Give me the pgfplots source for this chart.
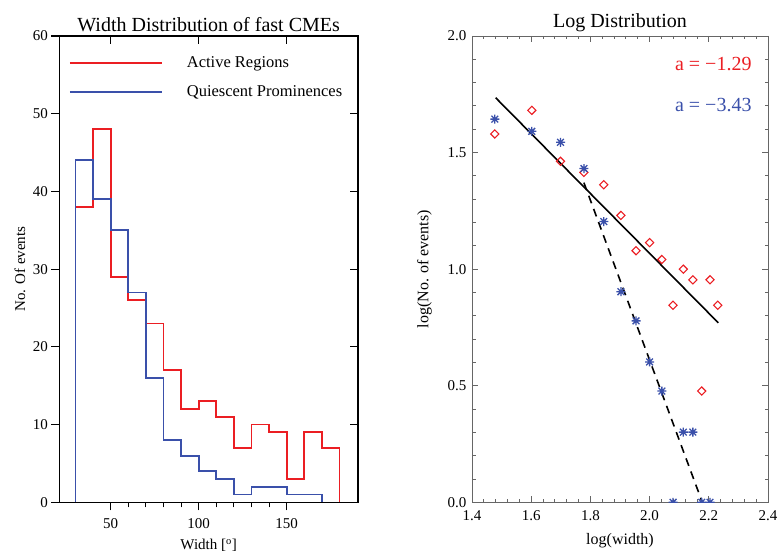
\documentclass[border=0pt]{standalone}
\usepackage{fontspec}
\setmainfont{Liberation Serif}
\usepackage{pgfplots}
\pgfplotsset{compat=1.18, /pgf/number format/assume math mode=true}
\definecolor{myred}{RGB}{235,30,35}
\definecolor{myblue}{RGB}{58,80,170}
\pgfdeclareplotmark{idlast}{%
  \pgfpathmoveto{\pgfqpoint{-\pgfplotmarksize}{0pt}}\pgfpathlineto{\pgfqpoint{\pgfplotmarksize}{0pt}}%
  \pgfpathmoveto{\pgfqpoint{0pt}{-\pgfplotmarksize}}\pgfpathlineto{\pgfqpoint{0pt}{\pgfplotmarksize}}%
  \pgfpathmoveto{\pgfqpoint{-.75\pgfplotmarksize}{-.75\pgfplotmarksize}}\pgfpathlineto{\pgfqpoint{.75\pgfplotmarksize}{.75\pgfplotmarksize}}%
  \pgfpathmoveto{\pgfqpoint{-.75\pgfplotmarksize}{.75\pgfplotmarksize}}\pgfpathlineto{\pgfqpoint{.75\pgfplotmarksize}{-.75\pgfplotmarksize}}%
  \pgfusepathqstroke}
\newcommand{\tickfont}{\fontsize{15bp}{18bp}\selectfont\rmfamily}
\newcommand{\labfont}{\fontsize{15bp}{18bp}\selectfont}
\newcommand{\titfont}{\fontsize{20bp}{24bp}\selectfont}
\begin{document}
\begin{tikzpicture}
\useasboundingbox (0,0) rectangle (778bp,553bp);
% ---------- left panel ----------
\begin{axis}[
  at={(59.3bp,50.7bp)}, anchor=south west, scale only axis,
  width=298.7bp, height=466.3bp,
  xmin=20.8, xmax=190.5, ymin=0, ymax=60,
  xtick={50,100,150}, minor x tick num=4,
  ytick={0,10,20,30,40,50,60},
  tick pos=left, tick align=outside,
  major tick length=8bp, minor tick length=5bp,
  axis line style={line width=1.5bp},
  every tick/.style={black, line width=1.1bp},
  every minor tick/.style={black, line width=1.1bp},
  ticklabel style={font=\tickfont},
  xticklabel style={yshift=-5bp},
  xlabel={Width [\textsuperscript{o}]},
  ylabel={No. Of events},
  label style={font=\labfont},
  xlabel style={at={(axis description cs:0.5,0)}, anchor=base, yshift=-47bp},
  ylabel style={at={(axis description cs:-0.132,0.5)}, anchor=center},
  title={Width Distribution of fast CMEs},
  title style={font=\titfont, yshift=-5bp},
  legend image code/.code={\draw[#1] (0bp,0bp) -- (92bp,0bp);},
  legend style={draw=none, fill=none, at={(rel axis cs:0.022,0.965)}, anchor=north west,
    font=\fontsize{16.5bp}{20bp}\selectfont, row sep=13bp,
    /tikz/every odd column/.append style={column sep=22bp}},
  legend cell align=left,
]
\addplot[const plot, myred, line width=1.8bp] coordinates {
 (30,0) (30,38) (40,48) (50,29) (60,26) (70,23) (80,17) (90,12) (100,13)
 (110,11) (120,7) (130,10) (140,9) (150,3) (160,9) (170,7) (180,7) (180,0)};
\addlegendentry{Active Regions}
\addplot[const plot, myblue, line width=1.8bp] coordinates {
 (30,0) (30,44) (40,39) (50,35) (60,27) (70,16) (80,8) (90,6) (100,4)
 (110,3) (120,1) (130,2) (140,2) (150,1) (160,1) (170,1) (170,0)};
\addlegendentry{Quiescent Prominences}
\end{axis}
\begin{axis}[
  at={(59.3bp,50.7bp)}, anchor=south west, scale only axis,
  width=298.7bp, height=466.3bp,
  xmin=20.8, xmax=190.5, ymin=0, ymax=60,
  xtick={50,100,150}, ytick={0,10,20,30,40,50,60},
  xticklabels={}, yticklabels={},
  tick pos=right, tick align=inside,
  major tick length=8bp,
  axis line style={line width=1.5bp},
  every tick/.style={black, line width=1.1bp},
]
\end{axis}
% ---------- right panel ----------
\begin{axis}[
  at={(472bp,50.7bp)}, anchor=south west, scale only axis,
  width=296bp, height=466.3bp,
  xmin=1.4, xmax=2.4, ymin=0, ymax=2,
  xtick={1.4,1.6,1.8,2.0,2.2,2.4}, minor x tick num=4,
  ytick={0,0.5,1,1.5,2}, minor y tick num=4,
  tick pos=both, tick align=inside,
  major tick length=6bp, minor tick length=3.5bp,
  axis line style={gray!80!black, line width=0.9bp},
  every tick/.style={gray!80!black, line width=0.9bp},
  every minor tick/.style={gray!80!black, line width=0.9bp},
  ticklabel style={font=\tickfont},
  xticklabel style={yshift=-5bp, /pgf/number format/.cd, fixed, fixed zerofill, precision=1},
  yticklabel style={xshift=-2bp, /pgf/number format/.cd, fixed, fixed zerofill, precision=1},
  xlabel={log(width)}, ylabel={log(No. of events)},
  label style={font=\fontsize{16bp}{19bp}\selectfont},
  xlabel style={at={(axis description cs:0.5,0)}, anchor=base, yshift=-42bp},
  ylabel style={at={(axis description cs:-0.161,0.5)}, anchor=center},
  title={Log Distribution},
  title style={font=\titfont, yshift=-5bp},
  clip marker paths=true,
]
\addplot[black, line width=1.6bp] coordinates {(1.48,1.735) (2.232,0.77)};
\addplot[black, line width=1.6bp, dash pattern=on 8bp off 6bp] coordinates {(1.778,1.371) (2.178,0)};
\addplot[only marks, mark=square, mark size=2.9bp, myred, mark options={rotate=45, line width=1.1bp}] coordinates {
 (1.4771,1.5798) (1.6021,1.6812) (1.6990,1.4624) (1.7782,1.4150) (1.8451,1.3617)
 (1.9031,1.2304) (1.9542,1.0792) (2.0000,1.1139) (2.0414,1.0414) (2.0792,0.8451)
 (2.1139,1.0000) (2.1461,0.9542) (2.1761,0.4771) (2.2041,0.9542) (2.2304,0.8451)};
\addplot[only marks, mark=idlast, mark size=4.5bp, myblue, mark options={line width=1.3bp}] coordinates {
 (1.4771,1.6435) (1.6021,1.5911) (1.6990,1.5441) (1.7782,1.4314) (1.8451,1.2041)
 (1.9031,0.9031) (1.9542,0.7782) (2.0000,0.6021) (2.0414,0.4771) (2.0792,0)
 (2.1139,0.3010) (2.1461,0.3010) (2.1761,0) (2.2041,0)};
\node[anchor=base east, text=myred, font=\titfont, inner sep=0pt] at (axis cs:2.345,1.85) {a = −1.29};
\node[anchor=base east, text=myblue, font=\titfont, inner sep=0pt] at (axis cs:2.345,1.675) {a = −3.43};
\end{axis}
\end{tikzpicture}
\end{document}
